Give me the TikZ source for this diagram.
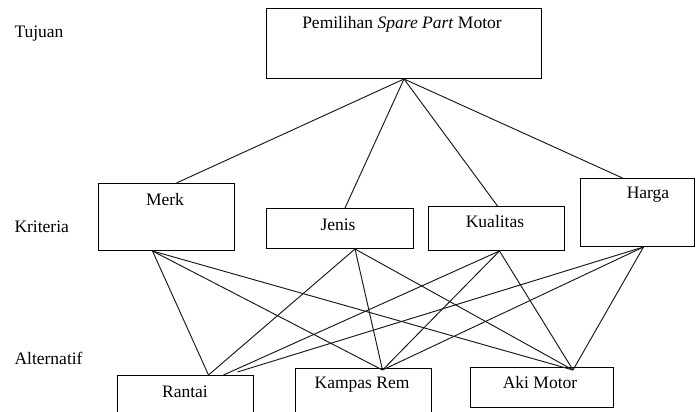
\documentclass[tikz,border=0pt]{standalone}
\usepackage{fontspec}
\setmainfont{Liberation Serif}
\tikzset{
  kotak/.style={draw,rectangle,line width=1pt,inner sep=0pt,anchor=north west},
  teks/.style={font=\fontsize{17.5}{20}\selectfont},
  garis/.style={black!90,line width=0.95pt},
}
\begin{document}
\begin{tikzpicture}[x=1pt,y=-1pt]
  \useasboundingbox (0,0) rectangle (696,412);
  % kotak
  \node[kotak,minimum width=275pt,minimum height=70pt] (tujuan) at (266,8) {};
  \node[kotak,minimum width=136pt,minimum height=67pt] (merk) at (98,183) {};
  \node[kotak,minimum width=147pt,minimum height=40pt] (jenis) at (266,208) {};
  \node[kotak,minimum width=136pt,minimum height=44pt] (kualitas) at (428,206) {};
  \node[kotak,minimum width=114pt,minimum height=68pt] (harga) at (580,178) {};
  \node[kotak,minimum width=136pt,minimum height=45pt] (rantai) at (117,375) {};
  \node[kotak,minimum width=136pt,minimum height=50pt] (kampas) at (295,368) {};
  \node[kotak,minimum width=143pt,minimum height=40pt] (aki) at (470,367) {};
  % teks
  \node[teks] at (402,24) {Pemilihan \textit{Spare Part} Motor};
  \node[teks] at (165,200) {Merk};
  \node[teks] at (338,225) {Jenis};
  \node[teks] at (495,222) {Kualitas};
  \node[teks] at (648,195) {Harga};
  \node[teks] at (185,392) {Rantai};
  \node[teks] at (362,385) {Kampas Rem};
  \node[teks] at (540,383) {Aki Motor};
  \node[teks,anchor=west] at (11,34) {Tujuan};
  \node[teks,anchor=west] at (11,227) {Kriteria};
  \node[teks,anchor=west] at (11,358) {Alternatif};
  % garis tujuan - kriteria
  \draw[garis] (tujuan.south) -- ([xshift=10pt]merk.north);
  \draw[garis] (tujuan.south) -- ([xshift=5pt]jenis.north);
  \draw[garis] (tujuan.south) -- ([xshift=1pt]kualitas.north);
  \draw[garis] (tujuan.south) -- ([xshift=-15pt]harga.north);
  % garis kriteria - alternatif
  \draw[garis] ([xshift=-14pt]merk.south) -- ([xshift=23pt]rantai.north);
  \draw[garis] ([xshift=-14pt]merk.south) -- ([xshift=19pt,yshift=-2pt]kampas.north);
  \draw[garis] ([xshift=-14pt]merk.south) -- ([xshift=31pt,yshift=-3pt]aki.north);
  \draw[garis] ([xshift=15pt]jenis.south) -- ([xshift=23pt]rantai.north);
  \draw[garis] ([xshift=15pt]jenis.south) -- ([xshift=19pt,yshift=-2pt]kampas.north);
  \draw[garis] ([xshift=15pt]jenis.south) -- ([xshift=31pt,yshift=-3pt]aki.north);
  \draw[garis] ([xshift=3pt]kualitas.south) -- ([xshift=38pt]rantai.north);
  \draw[garis] ([xshift=3pt]kualitas.south) -- ([xshift=19pt,yshift=-2pt]kampas.north);
  \draw[garis] ([xshift=3pt]kualitas.south) -- ([xshift=31pt,yshift=-3pt]aki.north);
  \draw[garis] ([xshift=6pt]harga.south) -- ([xshift=52pt,yshift=3pt]rantai.north);
  \draw[garis] ([xshift=6pt]harga.south) -- ([xshift=19pt,yshift=-2pt]kampas.north);
  \draw[garis] ([xshift=6pt]harga.south) -- ([xshift=31pt,yshift=-3pt]aki.north);
\end{tikzpicture}
\end{document}
